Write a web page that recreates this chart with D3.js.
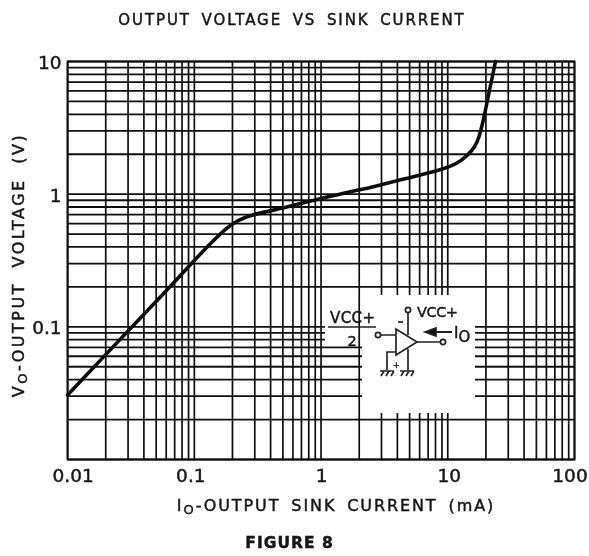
<!DOCTYPE html>
<html>
<head>
<meta charset="utf-8">
<script src="https://cdn.jsdelivr.net/npm/d3@7/dist/d3.min.js"></script>
<style>
html, body { margin: 0; padding: 0; background: #fff; }
text { font-family: "DejaVu Sans", sans-serif; fill: #151515; stroke: #151515; stroke-width: 0.45px; }
</style>
</head>
<body>
<div id="chart-area"></div>
<script>
// Values
const sinkCurrent = [0.01, 0.0294, 0.0665, 0.0955, 0.19, 0.274, 0.5, 1, 3, 4.17, 10.3, 13.1, 15.7, 17.1, 18.8, 21.1, 23.8];
const outputVoltage = [0.0306, 0.0914, 0.2067, 0.303, 0.606, 0.697, 0.78, 0.935, 1.17, 1.28, 1.57, 1.81, 2.15, 2.43, 3.32, 5.79, 10];
const xTickValues = [0.01, 0.1, 1, 10, 100];
const xTickLabels = ["0.01", "0.1", "1", "10", "100"];
const yTickValues = [0.1, 1, 10];
const yTickLabels = ["0.1", "1", "10"];

const width = 589;
const height = 556;
const margin = {left: 67.6, right: 14.5, top: 61.5, bottom: 96.5};

const svg = d3.select("#chart-area")
	.append("svg")
	.attr("width", width)
	.attr("height", height)
	.style("display", "block");

// scanned look
svg.append("filter")
	.attr("id", "scan")
	.append("feGaussianBlur")
	.attr("stdDeviation", 0.55);

const root = svg.append("g").attr("filter", "url(#scan)");

// Scales
const x = d3.scaleLog()
	.domain([0.01, 100])
	.range([margin.left, width - margin.right]);

const y = d3.scaleLog()
	.domain([0.01, 10])
	.range([height - margin.bottom, margin.top]);

// Horizontal grid
root.append("g")
	.selectAll("line")
	.data(y.ticks())
	.join("line")
	.attr("x1", x.range()[0])
	.attr("x2", x.range()[1])
	.attr("y1", d => y(d))
	.attr("y2", d => y(d))
	.attr("stroke", "#111")
	.attr("stroke-width", 1.8);

// Gap behind the Vcc/2 label
root.append("rect")
	.attr("x", 325).attr("y", 296)
	.attr("width", 40).attr("height", 50)
	.attr("fill", "#fff");

// Vertical grid
root.append("g")
	.selectAll("line")
	.data(x.ticks())
	.join("line")
	.attr("x1", d => x(d))
	.attr("x2", d => x(d))
	.attr("y1", y.range()[0])
	.attr("y2", y.range()[1])
	.attr("stroke", "#111")
	.attr("stroke-width", 1.7);

// Gap behind the circuit
root.append("rect")
	.attr("x", 362).attr("y", 295)
	.attr("width", 113).attr("height", 118)
	.attr("fill", "#fff");

// Frame
root.append("rect")
	.attr("x", x.range()[0])
	.attr("y", y.range()[1])
	.attr("width", x.range()[1] - x.range()[0])
	.attr("height", y.range()[0] - y.range()[1])
	.attr("fill", "none")
	.attr("stroke", "#111")
	.attr("stroke-width", 1.9);

// Curve
const line = d3.line()
	.x(d => x(d[0]))
	.y(d => y(d[1]))
	.curve(d3.curveBasis);

root.append("path")
	.datum(d3.zip(sinkCurrent, outputVoltage))
	.attr("d", line)
	.attr("fill", "none")
	.attr("stroke", "#111")
	.attr("stroke-width", 3.6)
	.attr("stroke-linecap", "round");

// Axes, labels only
const xAxis = d3.axisBottom(x)
	.tickValues(xTickValues)
	.tickSize(0)
	.tickPadding(9.5)
	.tickFormat((d, i) => xTickLabels[i]);

const xAxisGroup = root.append("g")
	.attr("transform", "translate(0," + y.range()[0] + ")")
	.call(xAxis);

xAxisGroup.select(".domain").remove();
xAxisGroup.selectAll("text")
	.attr("font-size", "18.5px")
	.attr("dx", (d, i) => [5, -4, 0, 1, -5][i]);

const yAxis = d3.axisLeft(y)
	.tickValues(yTickValues)
	.tickSize(0)
	.tickPadding(6)
	.tickFormat((d, i) => yTickLabels[i]);

const yAxisGroup = root.append("g")
	.attr("transform", "translate(" + x.range()[0] + ",0)")
	.call(yAxis);

yAxisGroup.select(".domain").remove();
yAxisGroup.selectAll("text")
	.attr("font-size", "18.5px")
	.attr("y", 1);

// Titles
root.append("text")
	.attr("x", 292)
	.attr("y", 25)
	.attr("text-anchor", "middle")
	.attr("font-size", "15px")
	.attr("letter-spacing", "1.9px")
	.attr("word-spacing", "4px")
	.text("OUTPUT VOLTAGE VS SINK CURRENT");

const xLabel = root.append("text")
	.attr("x", 336)
	.attr("y", 511)
	.attr("text-anchor", "middle")
	.attr("font-size", "16px")
	.attr("letter-spacing", "1.9px")
	.attr("word-spacing", "4px");
xLabel.append("tspan").text("I");
xLabel.append("tspan").attr("dy", 3).attr("font-size", "13px").text("O");
xLabel.append("tspan").attr("dy", -3).text("-OUTPUT SINK CURRENT (mA)");

const yLabel = root.append("text")
	.attr("transform", "translate(24,265) rotate(-90)")
	.attr("text-anchor", "middle")
	.attr("font-size", "16px")
	.attr("letter-spacing", "2.5px")
	.attr("word-spacing", "7px");
yLabel.append("tspan").text("V");
yLabel.append("tspan").attr("dy", 3).attr("font-size", "13px").text("O");
yLabel.append("tspan").attr("dy", -3).text("-OUTPUT VOLTAGE (V)");

root.append("text")
	.attr("x", 289.5)
	.attr("y", 548)
	.attr("text-anchor", "middle")
	.attr("font-size", "15.5px")
	.attr("font-weight", "bold")
	.attr("letter-spacing", "1px")
	.text("FIGURE 8");

// Circuit inset
const inset = root.append("g")
	.attr("fill", "none")
	.attr("stroke", "#222")
	.attr("stroke-width", 1.7);

// op amp and its wires
inset.append("path").attr("d", "M396,329L396,355L417,342Z");
inset.append("path").attr("d", "M381,335H396M417,342H440M408,313V335M408,349V370M396,352H387V370");
inset.append("path").attr("d", "M398,322H403");
inset.append("circle").attr("cx", 378).attr("cy", 335).attr("r", 2.6);
inset.append("circle").attr("cx", 408).attr("cy", 310).attr("r", 2.6);
inset.append("circle").attr("cx", 443).attr("cy", 342).attr("r", 2.6);

// ground symbols
[387, 407].forEach(gx => {
	inset.append("path").attr("d", `M${gx - 7},371H${gx + 7}M${gx - 6},376L${gx - 3},371M${gx - 1},376L${gx + 2},371M${gx + 4},376L${gx + 7},371`);
});

// fraction bar
inset.append("path").attr("d", "M328,327H376").attr("stroke-width", 1.3);

// current arrow
inset.append("path").attr("d", "M434,332H452").attr("stroke-width", 2);
inset.append("path").attr("d", "M425,332L436,328V336Z").attr("fill", "#111");

root.append("text").attr("x", 330).attr("y", 323).attr("font-size", "15px").attr("textLength", 45).text("VCC+");
root.append("text").attr("x", 352).attr("y", 346).attr("text-anchor", "middle").attr("font-size", "14.5px").text("2");
root.append("text").attr("x", 417).attr("y", 317).attr("font-size", "14.5px").attr("textLength", 41).text("VCC+");
root.append("text").attr("x", 393).attr("y", 368).attr("font-size", "8px").text("+");

const ioLabel = root.append("text").attr("x", 454).attr("y", 338).attr("font-size", "15px");
ioLabel.append("tspan").text("I");
ioLabel.append("tspan").attr("dy", 4).attr("font-size", "15px").text("O");
</script>
</body>
</html>
